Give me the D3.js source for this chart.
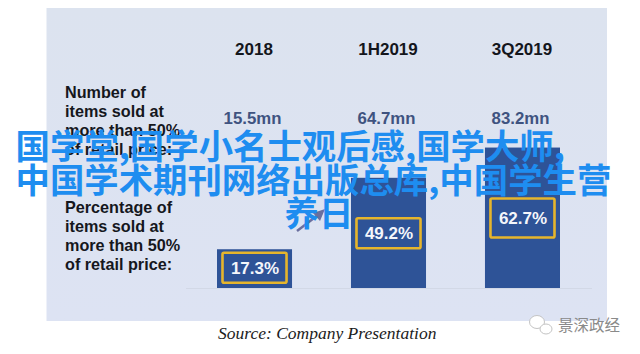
<!DOCTYPE html>
<html lang="en">
<head>
    <meta charset="UTF-8">
    <title>Chart</title>
    <script src="https://cdnjs.cloudflare.com/ajax/libs/d3/7.8.5/d3.min.js"></script>
    <style>
        html, body { margin: 0; padding: 0; background: #fff; overflow: hidden; }
    </style>
</head>
<body>
    <div id="wrapper"></div>
    <script>
        const periods = ['2018', '1H2019', '3Q2019']
        const itemsSold = ['15.5mn', '64.7mn', '83.2mn']
        const percentages = [17.3, 49.2, 62.7]
        const numberLabel = ['Number of', 'items sold at', 'more than 50%', 'of retail price:']
        const percentLabel = ['Percentage of', 'items sold at', 'more than 50%', 'of retail price:']
        const sourceText = 'Source: Company Presentation'
        const watermarkText = '景深政经'
        const overlayLines = ['国学堂,国学小名士观后感,国学大师,', '中国学术期刊网络出版总库,中国学生营', '养日']

        const width = 640
        const height = 354
        const baseline = 288

        const svg = d3.select('#wrapper')
            .append('svg')
                .attr('width', width)
                .attr('height', height)
                .attr('viewBox', `0 0 ${width} ${height}`)
                .style('display', 'block')

        const defs = svg.append('defs')
        const grad = defs.append('linearGradient')
            .attr('id', 'panelFill')
            .attr('x1', 0).attr('y1', 0).attr('x2', 0).attr('y2', 1)
        grad.append('stop').attr('offset', '0%').attr('stop-color', '#dce3ef')
        grad.append('stop').attr('offset', '100%').attr('stop-color', '#dde3f3')

        // background panel
        svg.append('rect')
            .attr('x', 46.5)
            .attr('y', 8)
            .attr('width', 560.5)
            .attr('height', 313)
            .attr('fill', 'url(#panelFill)')

        const xScale = d3.scaleBand()
            .domain(periods)
            .range([217, 560])
            .paddingInner(0.44)

        // 2.24 px per percentage point
        const yScale = d3.scaleLinear()
            .domain([0, 100])
            .range([baseline, baseline - 224])

        // baseline rule
        svg.append('line')
            .attr('x1', 186).attr('x2', 592)
            .attr('y1', baseline + 0.5).attr('y2', baseline + 0.5)
            .attr('stroke', '#d2d8e6')

        // bars
        svg.selectAll('.bar')
            .data(percentages)
            .join('rect')
                .attr('class', 'bar')
                .attr('x', (d, i) => xScale(periods[i]))
                .attr('y', d => yScale(d))
                .attr('width', xScale.bandwidth())
                .attr('height', d => yScale(0) - yScale(d))
                .attr('fill', '#2e5397')

        // yellow boxes inside the bars, offset/height differ per bar in the picture
        const boxOffset = [3.5, 40.5, 51]
        const boxHeight = [30, 30, 39]
        svg.selectAll('.box')
            .data(percentages)
            .join('rect')
                .attr('class', 'box')
                .attr('x', (d, i) => xScale(periods[i]) + 5.5)
                .attr('y', (d, i) => yScale(d) + boxOffset[i])
                .attr('width', xScale.bandwidth() - 11)
                .attr('height', (d, i) => boxHeight[i])
                .attr('rx', 1.5)
                .attr('fill', 'none')
                .attr('stroke', '#e6b52c')
                .attr('stroke-width', 2.6)

        svg.selectAll('.pct')
            .data(percentages)
            .join('text')
                .attr('class', 'pct')
                .attr('x', (d, i) => xScale(periods[i]) + xScale.bandwidth() / 2 + 0.5)
                .attr('y', (d, i) => yScale(d) + boxOffset[i] + boxHeight[i] / 2 + 6)
                .attr('text-anchor', 'middle')
                .attr('font-family', '"Liberation Sans", Arial, sans-serif')
                .attr('font-weight', 700)
                .attr('font-size', 17)
                .attr('fill', '#f4f6fb')
                .text(d => d + '%')

        // column headers
        svg.selectAll('.period')
            .data(periods)
            .join('text')
                .attr('class', 'period')
                .attr('x', d => xScale(d) + xScale.bandwidth() / 2 - 0.5)
                .attr('y', 55)
                .attr('text-anchor', 'middle')
                .attr('font-family', '"Liberation Sans", Arial, sans-serif')
                .attr('font-weight', 700)
                .attr('font-size', 17)
                .attr('fill', '#14161c')
                .text(d => d)

        svg.selectAll('.sold')
            .data(itemsSold)
            .join('text')
                .attr('class', 'sold')
                .attr('x', (d, i) => xScale(periods[i]) + xScale.bandwidth() / 2 - 2)
                .attr('y', 124)
                .attr('text-anchor', 'middle')
                .attr('font-family', '"Liberation Sans", Arial, sans-serif')
                .attr('font-weight', 700)
                .attr('font-size', 16.8)
                .attr('fill', '#3f5380')
                .text(d => d)

        function leftLabel(lines, top) {
            svg.append('g').selectAll('text')
                .data(lines)
                .join('text')
                    .attr('x', 65)
                    .attr('y', (d, i) => top + i * 19.1)
                    .attr('font-family', '"Liberation Sans", Arial, sans-serif')
                    .attr('font-weight', 700)
                    .attr('font-size', 16.2)
                    .attr('fill', '#15171d')
                    .text(d => d)
        }
        leftLabel(numberLabel, 98)
        leftLabel(percentLabel, 212.5)

        svg.append('text')
            .attr('x', 218)
            .attr('y', 339)
            .attr('font-family', '"Liberation Serif", serif')
            .attr('font-style', 'italic')
            .attr('font-size', 17.5)
            .attr('fill', '#1c1c1c')
            .text(sourceText)

        // wechat style mark: two outlined bubbles
        const mark = svg.append('g').attr('fill', '#fff').attr('stroke', '#c4c4c4').attr('stroke-width', 1)
        mark.append('ellipse').attr('cx', 537).attr('cy', 322).attr('rx', 7.5).attr('ry', 6.5)
        mark.append('ellipse').attr('cx', 546).attr('cy', 329).attr('rx', 6).attr('ry', 5)

        svg.append('text')
            .attr('x', 558)
            .attr('y', 331)
            .attr('font-family', '"Noto Sans CJK SC", sans-serif')
            .attr('font-size', 15.5)
            .attr('fill', '#8a8a8a')
            .text(watermarkText)

        // small arrow sitting under the overlay text
        svg.append('line')
            .attr('x1', 297).attr('y1', 231)
            .attr('x2', 318).attr('y2', 215)
            .attr('stroke', '#6a6f9f')
            .attr('stroke-width', 2.4)
        svg.append('path')
            .attr('d', 'M325,209 L313,213 L320,221 Z')
            .attr('fill', '#6a6f9f')

        // big overlay title
        svg.append('g').selectAll('text')
            .data(overlayLines)
            .join('text')
                .attr('x', (d, i) => i === 2 ? 319 : 15.5)
                .attr('y', (d, i) => 159 + i * 33.6)
                .attr('text-anchor', (d, i) => i === 2 ? 'middle' : 'start')
                .attr('font-family', '"Noto Sans CJK SC", sans-serif')
                .attr('font-weight', 700)
                .attr('font-size', 34.4)
                .attr('fill', '#1e8df0')
                .text(d => d)
    </script>
</body>
</html>
